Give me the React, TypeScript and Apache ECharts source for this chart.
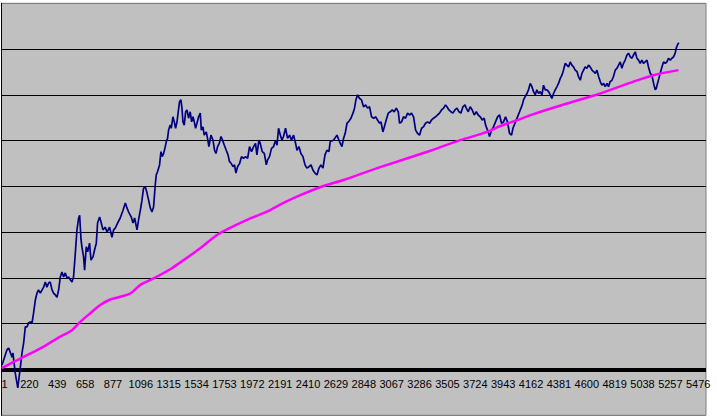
import React, { useEffect, useRef } from "react";
import * as echarts from "echarts";

// Day index (0-based; label = day + 1) and value of the jagged series
const navDay = [
  4, 43, 56, 83, 90, 108, 128, 148, 161, 174,
  187, 200, 213, 226, 240, 252, 266, 279, 291, 305,
  331, 344, 357, 370, 383, 397, 409, 423, 436, 449,
  462, 475, 488, 501, 515, 527, 541, 554, 566, 580,
  593, 606, 614, 625, 632, 645, 653, 666, 677, 692,
  703, 719, 731, 745, 755, 771, 784, 797, 816, 829,
  849, 868, 881, 894, 912, 933, 955, 973, 986, 999,
  1020, 1033, 1046, 1065, 1077, 1091, 1104, 1116, 1130, 1143,
  1156, 1169, 1182, 1195,
  1208, 1216, 1226, 1242, 1253, 1263, 1274, 1287, 1295, 1305,
  1313, 1326, 1334, 1347, 1358, 1368, 1379, 1389, 1399, 1410,
  1418, 1426, 1436, 1447, 1458, 1470, 1483, 1494, 1505, 1515,
  1525, 1536, 1549, 1562, 1570, 1583, 1593, 1609, 1619, 1630,
  1646, 1662, 1674, 1685, 1698, 1711, 1725, 1737, 1751, 1766,
  1780, 1792, 1806, 1819, 1831, 1842, 1855, 1871, 1886, 1902,
  1918, 1934, 1949, 1965, 1981, 1996, 2007, 2023, 2033, 2049,
  2065, 2081, 2091, 2106, 2122, 2138, 2154, 2165, 2177, 2191,
  2204, 2216, 2232, 2248, 2264, 2279, 2295, 2311, 2322, 2337,
  2353, 2369, 2385, 2400, 2416, 2432, 2447, 2463, 2479, 2495,
  2510, 2526, 2542, 2557, 2573,
  2583, 2609, 2636, 2656, 2675, 2688, 2701, 2715, 2727, 2746,
  2762, 2774, 2785, 2798, 2814, 2829, 2845, 2861, 2877, 2892,
  2908, 2924, 2939, 2955, 2971, 2982, 2997, 3008, 3023, 3039,
  3055, 3071, 3086, 3102, 3118, 3128, 3144, 3159, 3175, 3191,
  3206, 3222, 3238, 3254, 3269, 3285, 3301, 3316, 3332, 3348,
  3364, 3379, 3395, 3411, 3426, 3442, 3458, 3474, 3489, 3500,
  3516, 3532, 3547, 3563, 3579, 3595, 3610, 3626, 3642, 3652,
  3668, 3683, 3699, 3715, 3731, 3746, 3762, 3778, 3793, 3804,
  3819, 3835, 3851, 3866, 3882, 3898, 3914,
  3929, 3945, 3961, 3976, 3992, 4008, 4019, 4035, 4055, 4071,
  4082, 4092, 4102, 4115, 4129, 4141, 4155, 4168, 4181, 4194,
  4207, 4220, 4233, 4247, 4259, 4273, 4286, 4299, 4312, 4325,
  4338, 4351, 4365, 4377, 4391, 4404, 4416, 4430, 4443, 4456,
  4469, 4482, 4495, 4508, 4522, 4534, 4548, 4561, 4574, 4587,
  4600, 4613, 4626, 4640, 4652, 4666, 4679, 4692, 4705, 4718,
  4731, 4744, 4758, 4770, 4783, 4797, 4809, 4823, 4836, 4849,
  4862, 4875, 4888, 4901, 4915, 4927, 4941, 4954, 4966, 4980,
  4993, 5006, 5019, 5032, 5045, 5058, 5072, 5084, 5098, 5111,
  5124, 5137, 5145, 5155, 5166, 5176, 5190, 5202, 5216, 5229,
  5241, 5255, 5268, 5281, 5294, 5302, 5312, 5322,
];

const navValue = [
  0.10, 0.43, 0.47, 0.27, 0.36, -0.08, -0.40, 0.05, 0.36, 0.58,
  0.93, 0.93, 1.02, 1.04, 1.02, 1.23, 1.52, 1.67, 1.74, 1.67,
  1.80, 1.91, 1.80, 1.89, 1.91, 1.74, 1.67, 1.63, 1.58, 1.74,
  2.02, 2.13, 2.02, 2.11, 2.00, 2.02, 1.96, 1.91, 2.02, 2.54,
  3.05, 3.31, 3.37, 2.83, 2.68, 2.46, 2.17, 2.68, 2.57, 2.76,
  2.39, 2.46, 2.61, 2.76, 3.20, 3.33, 3.20, 3.05, 3.11, 3.00,
  3.11, 2.89, 3.05, 3.09, 3.20, 3.31, 3.48, 3.64, 3.53, 3.44,
  3.33, 3.20, 3.31, 3.05, 3.27, 3.48, 3.70, 3.96, 3.99, 3.86,
  3.70, 3.53, 3.44, 3.55,
  4.03, 4.25, 4.32, 4.47, 4.76, 4.65, 4.72, 4.87, 4.98, 5.05,
  5.23, 5.34, 5.27, 5.52, 5.41, 5.27, 5.41, 5.63, 5.85, 5.89,
  5.71, 5.41, 5.34, 5.63, 5.67, 5.49, 5.63, 5.41, 5.52, 5.41,
  5.27, 5.38, 5.52, 5.60, 5.23, 5.30, 5.12, 5.19, 5.05, 4.87,
  5.12, 5.01, 4.79, 4.72, 4.87, 4.94, 5.09, 5.01, 4.90, 4.79,
  4.69, 4.54, 4.50, 4.43, 4.47, 4.29, 4.43, 4.50, 4.65, 4.61,
  4.65, 4.61, 4.87, 4.76, 4.87, 4.94, 4.69, 5.01, 4.94, 4.76,
  4.72, 4.47, 4.58, 4.65, 4.83, 4.87, 5.01, 4.90, 5.27, 5.12,
  5.01, 5.09, 5.27, 5.05, 5.12, 5.01, 5.12, 4.94, 4.79, 4.87,
  4.72, 4.65, 4.47, 4.40, 4.43, 4.47, 4.36, 4.29, 4.25, 4.40,
  4.47, 4.40, 4.69, 4.79, 4.76,
  4.98, 5.01, 5.12, 4.98, 4.87, 5.05, 5.16, 5.38, 5.41, 5.49,
  5.60, 5.71, 5.89, 6.00, 5.92, 5.89, 5.74, 5.78, 5.71, 5.74,
  5.52, 5.49, 5.52, 5.45, 5.38, 5.41, 5.19, 5.30, 5.45, 5.60,
  5.63, 5.67, 5.63, 5.71, 5.63, 5.38, 5.41, 5.52, 5.49, 5.60,
  5.56, 5.60, 5.52, 5.23, 5.16, 5.12, 5.27, 5.30, 5.38, 5.41,
  5.38, 5.45, 5.49, 5.52, 5.56, 5.60, 5.67, 5.71, 5.78, 5.74,
  5.67, 5.63, 5.60, 5.67, 5.71, 5.63, 5.60, 5.74, 5.78, 5.71,
  5.63, 5.74, 5.67, 5.56, 5.63, 5.56, 5.52, 5.45, 5.49, 5.34,
  5.23, 5.09, 5.23, 5.30, 5.41, 5.52, 5.56,
  5.38, 5.41, 5.52, 5.41, 5.16, 5.12, 5.27, 5.38, 5.52, 5.63,
  5.71, 5.78, 5.89, 5.96, 6.03, 6.11, 6.25, 6.18, 6.07, 6.00,
  6.11, 6.03, 6.07, 6.00, 6.21, 6.11, 6.11, 6.07, 6.00, 5.92,
  6.03, 6.11, 6.18, 6.25, 6.36, 6.43, 6.54, 6.69, 6.65, 6.61,
  6.72, 6.65, 6.61, 6.54, 6.51, 6.40, 6.32, 6.47, 6.54, 6.61,
  6.58, 6.65, 6.61, 6.54, 6.51, 6.47, 6.54, 6.40, 6.29, 6.21,
  6.25, 6.18, 6.25, 6.18, 6.29, 6.32, 6.40, 6.54, 6.58, 6.65,
  6.72, 6.58, 6.69, 6.76, 6.87, 6.91, 6.83, 6.80, 6.87, 6.94,
  6.80, 6.76, 6.69, 6.76, 6.69, 6.72, 6.76, 6.61, 6.47, 6.43,
  6.25, 6.11, 6.14, 6.25, 6.36, 6.47, 6.61, 6.72, 6.69, 6.72,
  6.80, 6.76, 6.80, 6.83, 6.91, 7.02, 7.09, 7.14,
];

// Smooth moving-average style series
const avgDay = [
  2, 148, 305, 462, 554, 619, 698, 776, 855, 933,
  1012, 1091, 1195, 1326, 1431, 1562, 1693, 1772, 1955, 2086,
  2216, 2348, 2531, 2688, 2976, 3382, 3605, 3815, 3919, 4076,
  4181, 4443, 4705, 4966, 5124, 5320,
];
const avgValue = [
  0.03, 0.24, 0.46, 0.72, 0.86, 1.04, 1.23, 1.41, 1.53, 1.59,
  1.66, 1.85, 1.99, 2.19, 2.39, 2.65, 2.94, 3.06, 3.30, 3.45,
  3.64, 3.81, 4.01, 4.14, 4.42, 4.79, 5.01, 5.19, 5.32, 5.47,
  5.58, 5.81, 6.03, 6.29, 6.43, 6.54,
];

const X_TICK_STEP = 219; // labels 1, 220, 439, ... 5476
const X_MAX = 5536;
const Y_MIN = -1;
const Y_MAX = 8;
const Y_STEP = 1;
const ZERO_LINE = 0;

function zip(xs: number[], ys: number[]): [number, number][] {
  const n = Math.min(xs.length, ys.length);
  const out: [number, number][] = [];
  for (let i = 0; i < n; i++) out.push([xs[i], ys[i]]);
  return out;
}

export default function App() {
  const ref = useRef<HTMLDivElement>(null);

  useEffect(() => {
    if (!ref.current) return;
    const chart = echarts.init(ref.current, null, { renderer: "svg" });
    const splitColors: string[] = [];
    for (let v = Y_MIN; v <= Y_MAX; v += Y_STEP) {
      splitColors.push(v === Y_MIN || v === Y_MAX ? "#808080" : "#000000");
    }
    chart.setOption({
      animation: false,
      backgroundColor: "#ffffff",
      grid: {
        left: 1.5,
        right: 11,
        top: 3.3,
        bottom: 4.7,
        show: true,
        backgroundColor: "#c0c0c0",
        borderColor: "#808080",
        borderWidth: 1,
        containLabel: false,
        outerBoundsMode: "none",
      },
      xAxis: {
        type: "value",
        position: "bottom",
        min: 0,
        max: X_MAX,
        interval: X_TICK_STEP,
        axisLine: { show: false, onZero: false },
        axisTick: { show: false },
        splitLine: { show: false },
        axisLabel: {
          formatter: (v: number) => String(Math.round(v) + 1),
          color: "#000000",
          fontFamily: "'Liberation Sans', Arial, sans-serif",
          fontSize: 11,
          margin: -37,
          verticalAlign: "top",
          showMinLabel: true,
          showMaxLabel: false,
          alignMinLabel: "left",
        },
      },
      yAxis: {
        type: "value",
        min: Y_MIN,
        max: Y_MAX,
        interval: Y_STEP,
        axisLine: { show: true, onZero: false, lineStyle: { color: "#000000", width: 1 } },
        axisTick: { show: false },
        axisLabel: { show: false },
        splitLine: { show: true, lineStyle: { color: splitColors, width: 1 } },
      },
      series: [
        {
          type: "line",
          data: zip(navDay, navValue),
          showSymbol: false,
          symbol: "none",
          lineStyle: { color: "#000080", width: 1.7 },
          z: 3,
          markLine: {
            silent: true,
            symbol: ["none", "none"],
            label: { show: false },
            lineStyle: { color: "#000000", width: 4, type: "solid" },
            data: [{ yAxis: ZERO_LINE }],
            z: 2,
          },
        },
        {
          type: "line",
          data: zip(avgDay, avgValue),
          showSymbol: false,
          symbol: "none",
          smooth: 0.3,
          lineStyle: { color: "#ff00ff", width: 2.5 },
          z: 4,
        },
      ],
    });
    return () => chart.dispose();
  }, []);

  return (
    <div
      ref={ref}
      style={{ position: "absolute", left: 0, top: 0, width: 717, height: 420 }}
    />
  );
}
